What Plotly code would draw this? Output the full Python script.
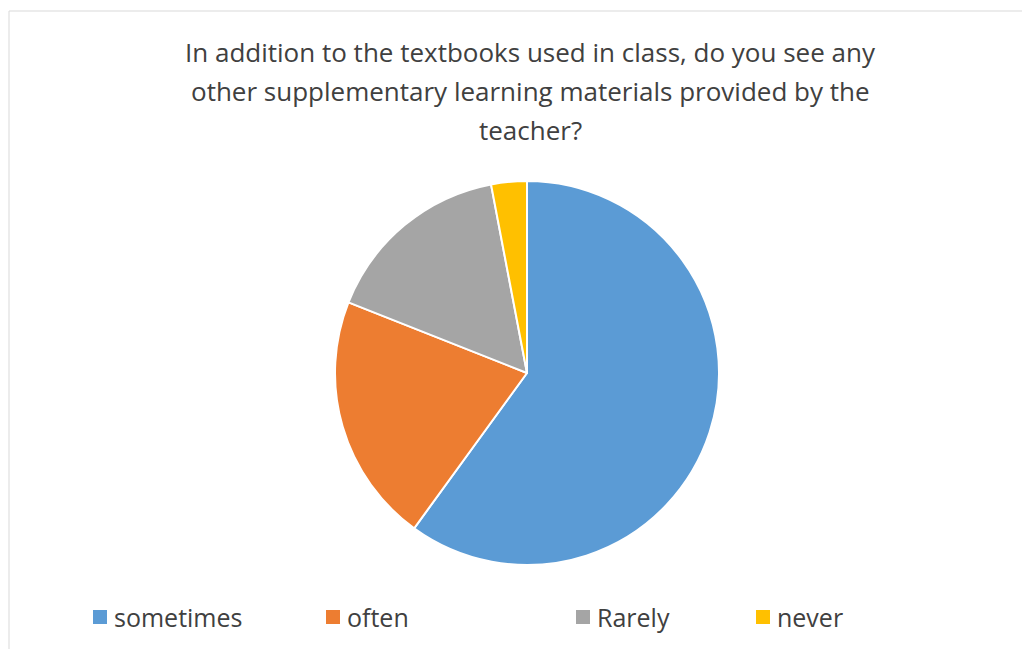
import plotly.graph_objects as go

categories = ["sometimes", "often", "Rarely", "never"]
values = [60, 21, 16, 3]
colors = ["#5B9BD5", "#ED7D31", "#A5A5A5", "#FFC000"]
title_lines = [
    "In addition to the textbooks used in class, do you see any",
    "other supplementary learning materials provided by the",
    "teacher?",
]

W, H = 1030, 649
OFF = 8  # page body margin
cx, cy, r = 527 - OFF, 373 - OFF, 192


def px(x):
    return (x - OFF) / W


def py(y):
    return 1 - (y - OFF) / H


fig = go.Figure(go.Pie(
    labels=categories,
    values=values,
    sort=False,
    direction="clockwise",
    rotation=0,
    textinfo="none",
    hoverinfo="label+value",
    marker=dict(colors=colors, line=dict(color="white", width=2)),
    domain=dict(x=[(cx - r) / W, (cx + r) / W], y=[1 - (cy + r) / H, 1 - (cy - r) / H]),
    showlegend=False,
))

annotations = []
title_y = [52, 91, 130]
for line, ty in zip(title_lines, title_y):
    annotations.append(dict(
        text=line, x=px(530), y=py(ty), xref="paper", yref="paper",
        xanchor="center", yanchor="middle", showarrow=False,
        font=dict(family="Open Sans", size=26, color="#404040"),
    ))

legend_x = [93, 326, 576, 756]
legend_y = 617
shapes = [dict(type="rect", xref="paper", yref="paper",
               x0=px(9), y0=-0.1, x1=1.1, y1=py(11),
               line=dict(color="#D9D9D9", width=1), fillcolor="rgba(0,0,0,0)")]
for cat, col, lx in zip(categories, colors, legend_x):
    shapes.append(dict(type="rect", xref="paper", yref="paper",
                       x0=px(lx), x1=px(lx + 14),
                       y0=py(legend_y + 7), y1=py(legend_y - 7),
                       fillcolor=col, line=dict(width=0)))
    annotations.append(dict(
        text=cat, x=px(lx + 19), y=py(legend_y), xref="paper", yref="paper",
        xanchor="left", yanchor="middle", showarrow=False,
        font=dict(family="Open Sans", size=25, color="#404040"),
    ))

fig.update_layout(
    width=W, height=H,
    margin=dict(l=0, r=0, t=0, b=0),
    paper_bgcolor="white",
    plot_bgcolor="white",
    annotations=annotations,
    shapes=shapes,
)

fig.write_html("out.html")
